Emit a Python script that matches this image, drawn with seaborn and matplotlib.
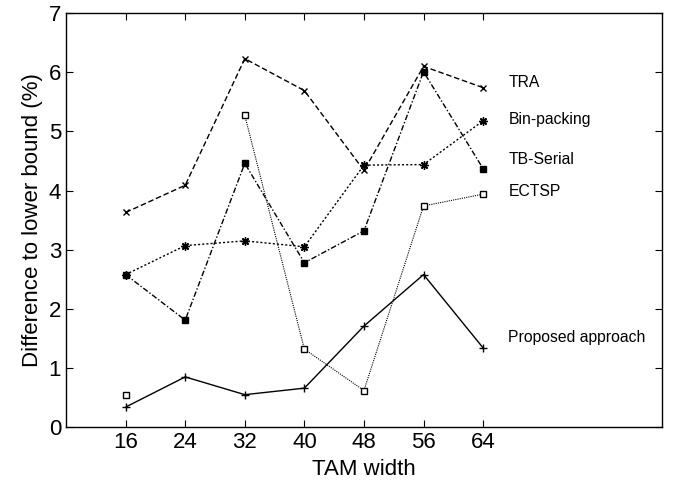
import numpy as np
import pandas as pd
import seaborn as sns
import matplotlib
matplotlib.use("Agg")
import matplotlib.pyplot as plt

# TAM widths and % difference to lower bound for each method
tam_width = [16, 24, 32, 40, 48, 56, 64]
tra = [3.63, 4.09, 6.23, 5.69, 4.34, 6.10, 5.74]
bin_packing = [2.58, 3.07, 3.15, 3.05, 4.43, 4.44, 5.18]
tb_serial = [2.58, 1.81, 4.46, 2.78, 3.32, 6.01, 4.37]
ectsp = [0.54, np.nan, 5.27, 1.32, 0.62, 3.74, 3.94]
proposed = [0.34, 0.85, 0.55, 0.66, 1.71, 2.58, 1.34]

labels = ["TRA", "Bin-packing", "TB-Serial", "ECTSP", "Proposed approach"]
label_y = [5.82, 5.21, 4.52, 3.99, 1.52]

sns.set_style("ticks", {"axes.edgecolor": "black", "xtick.color": "black",
                        "ytick.color": "black", "text.color": "black",
                        "axes.labelcolor": "black"})
plt.rcParams['font.family'] = ['Liberation Sans', 'DejaVu Sans']

fig = plt.figure(figsize=(6.74, 4.86), dpi=100)
ax = fig.add_axes([0.098, 0.121, 0.884, 0.852])

series = [
    (tra, dict(marker="x", linestyle=(0, (4, 2)), markersize=5, mfc="black")),
    (bin_packing, dict(marker=(8, 2, 0), linestyle=(0, (1.5, 1.5)), markersize=6, mfc="black")),
    (tb_serial, dict(marker="s", linestyle=(0, (4, 1.5, 1, 1.5)), markersize=5, mfc="black")),
    (ectsp, dict(marker="s", linestyle=(0, (1, 1)), markersize=5, mfc="white", linewidth=0.8)),
    (proposed, dict(marker="+", linestyle="-", markersize=6, mfc="black")),
]

for vals, kw in series:
    df = pd.DataFrame({"tam": tam_width, "diff": vals})
    # a gap (NaN) starts a new line segment
    df["seg"] = df["diff"].isna().cumsum()
    df = df.dropna()
    lw = kw.pop("linewidth", 1.0)
    sns.lineplot(data=df, x="tam", y="diff", units="seg", ax=ax, color="black",
                 linewidth=lw, mec="black", mew=1.0, estimator=None, **kw)

for lab, yy in zip(labels, label_y):
    ax.text(67.4, yy, lab, fontsize=11.3, va="center", ha="left")

ax.set_xlim(8, 88)
ax.set_ylim(0, 7)
ax.set_xticks(tam_width)
ax.set_yticks(range(0, 8))
ax.tick_params(direction="in", top=True, right=True, length=5, labelsize=16, width=0.8)
ax.set_xlabel("TAM width", fontsize=16)
ax.set_ylabel("Difference to lower bound (%)", fontsize=16)
for s in ax.spines.values():
    s.set_linewidth(1.0)

fig.savefig("out.png", dpi=100)
